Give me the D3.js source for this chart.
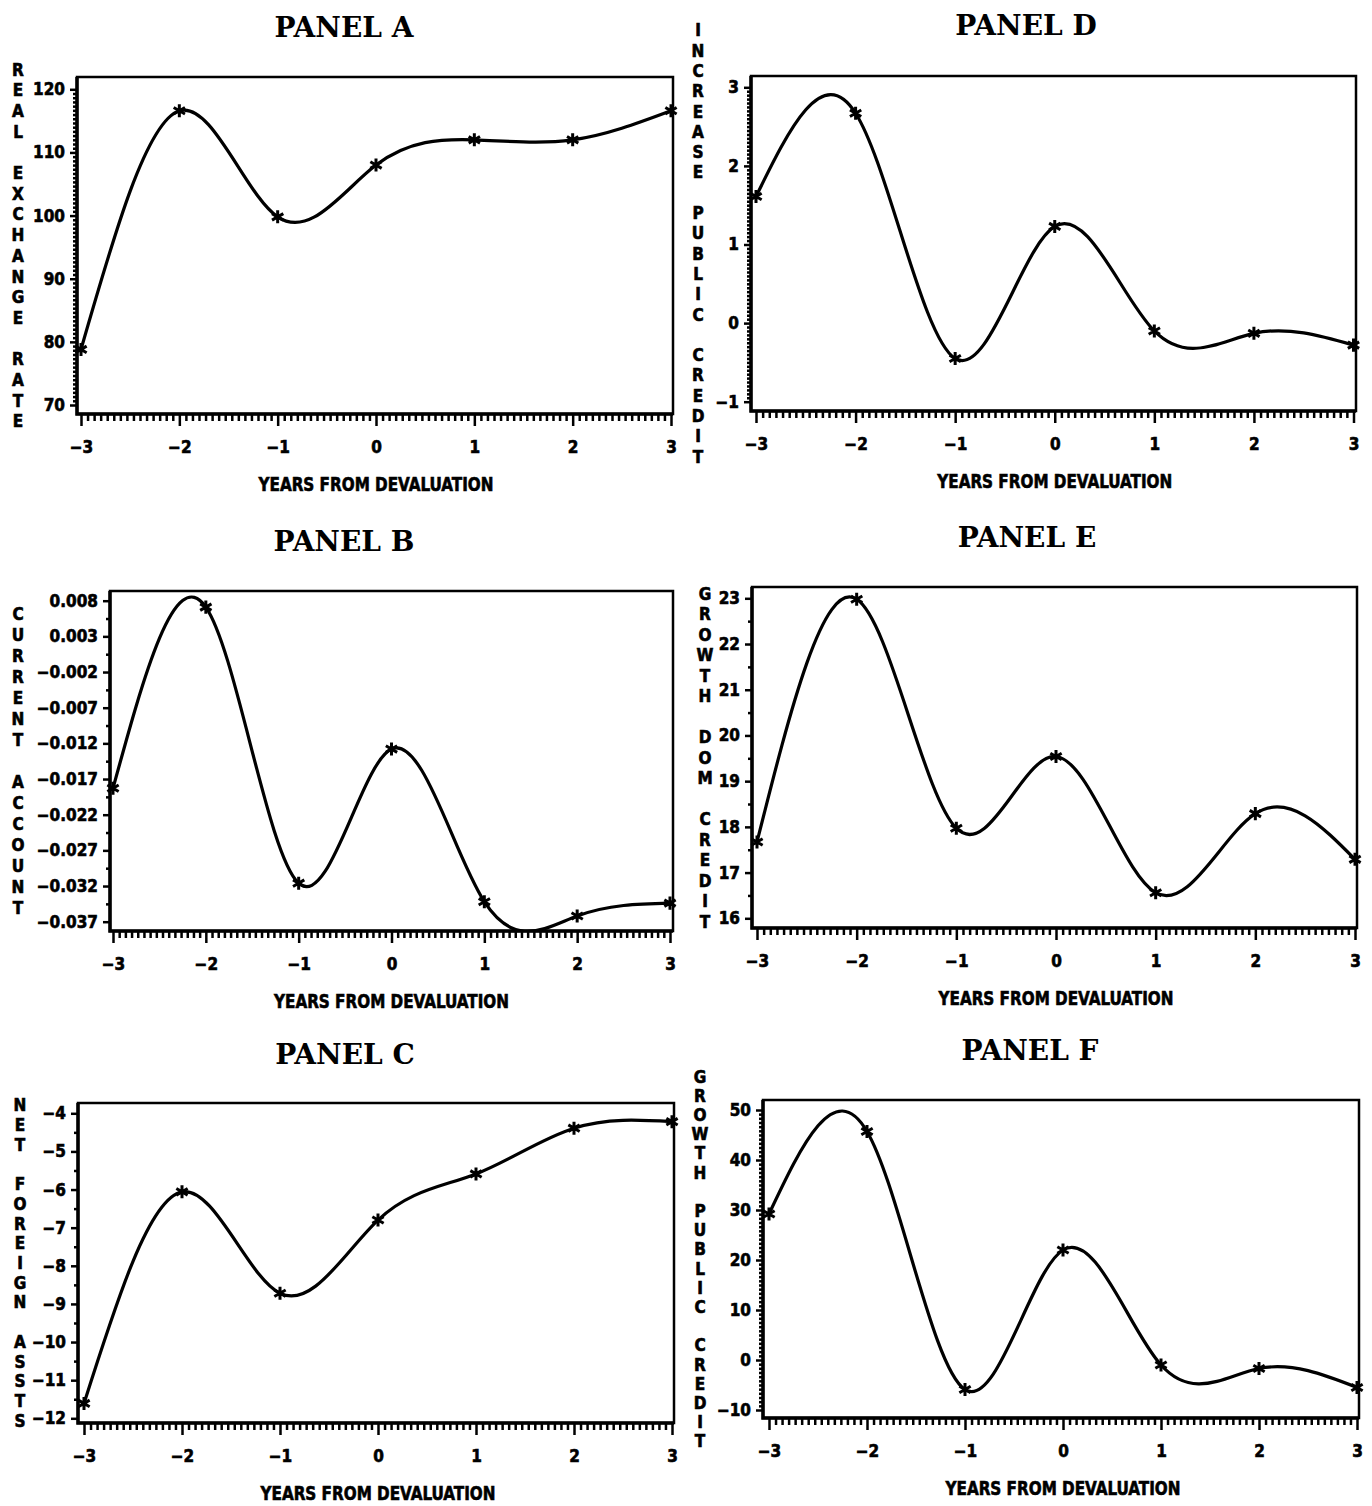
<!DOCTYPE html>
<html>
<head>
<meta charset="utf-8">
<script src="https://cdn.jsdelivr.net/npm/d3@7"></script>
<style>
  body { margin: 0; background: #fff; }
  .tick text { font-family: "DejaVu Sans Condensed", "Liberation Sans Narrow", sans-serif; font-weight: bold; font-size: 17px; fill: #000; stroke: #000; stroke-width: 0.6px; }
  .tick line { stroke: #000; stroke-width: 2.5; }
  .heavy { font-family: "DejaVu Sans Condensed", sans-serif; font-weight: bold; fill: #000; stroke: #000; stroke-width: 0.6px; }
</style>
</head>
<body>
<div id="main"></div>
<script>
// years from devaluation (x axis, shared by every panel)
const years = [-3, -2, -1, 0, 1, 2, 3];
const xTicks = [-3, -2, -1, 0, 1, 2, 3];

// series
const realExchangeRate     = [78.8, 116.6, 99.8, 108.0, 112.0, 112.0, 116.6];
const currentAccount       = [-0.0183, 0.0071, -0.0316, -0.0128, -0.0342, -0.0362, -0.0344];
const netForeignAssets     = [-11.61, -6.06, -8.72, -6.80, -5.59, -4.39, -4.22];
const increasePublicCredit = [1.61, 2.67, -0.45, 1.23, -0.10, -0.13, -0.28];
const growthDomCredit      = [17.67, 22.98, 17.97, 19.54, 16.56, 18.29, 17.29];
const growthPublicCredit   = [29.2, 45.7, -5.9, 22.0, -1.0, -1.7, -5.5];

// y tick labels
const ticksA = [70, 80, 90, 100, 110, 120];
const ticksB = [0.008, 0.003, -0.002, -0.007, -0.012, -0.017, -0.022, -0.027, -0.032, -0.037];
const ticksC = [-4, -5, -6, -7, -8, -9, -10, -11, -12];
const ticksD = [-1, 0, 1, 2, 3];
const ticksE = [16, 17, 18, 19, 20, 21, 22, 23];
const ticksF = [-10, 0, 10, 20, 30, 40, 50];

const titles = ["PANEL A", "PANEL B", "PANEL C", "PANEL D", "PANEL E", "PANEL F"];
const yLabels = ["REAL EXCHANGE RATE", "CURRENT ACCOUNT", "NET FOREIGN ASSTS",
                 "INCREASE PUBLIC CREDIT", "GROWTH DOM CREDIT", "GROWTH PUBLIC CREDIT"];
const xLabel = "YEARS FROM DEVALUATION";

const ctx = {
    w: 1372,
    h: 1506,
    LINE_W: 3.2,
    X_MINOR: 15,     // sub-intervals between x majors
};

// layout only: box = [left, right, top, bottom], xr = px of -3 and 3, yr = px of top and bottom tick
const layout = [
    {values: realExchangeRate, ticks: ticksA, fmt: d3.format("d"), minor: 15,
     box: [77, 673, 77, 414], xr: [81, 671], yr: [89.3, 405],
     titleX: 344, titleY: 37, labX: 18, pitch: 20.7},
    {values: currentAccount, ticks: ticksB, fmt: d3.format(".3f"), minor: 2,
     box: [110, 673, 591, 931], xr: [113, 670], yr: [600.7, 921.7],
     titleX: 344, titleY: 551, labX: 18, pitch: 21},
    {values: netForeignAssets, ticks: ticksC, fmt: d3.format("d"), minor: 2,
     box: [78, 674, 1103, 1423], xr: [84, 672], yr: [1113.3, 1418.3],
     titleX: 345, titleY: 1064, labX: 20, pitch: 19.7},
    {values: increasePublicCredit, ticks: ticksD, fmt: d3.format("d"), minor: 20,
     box: [751, 1356, 76, 411], xr: [756, 1353.5], yr: [87.3, 401.7],
     titleX: 1026, titleY: 35, labX: 698, pitch: 20.3},
    {values: growthDomCredit, ticks: ticksE, fmt: d3.format("d"), minor: 2,
     box: [752, 1357, 587, 928], xr: [757, 1355], yr: [598.3, 918.3],
     titleX: 1027, titleY: 547, labX: 705, pitch: 20.5},
    {values: growthPublicCredit, ticks: ticksF, fmt: d3.format("d"), minor: 12,
     box: [763, 1359, 1100, 1418], xr: [769, 1357], yr: [1110, 1410],
     titleX: 1030, titleY: 1060, labX: 700, pitch: 19.2},
];

// tick positions between consecutive majors
function minorTicks(majors, n){
    const s = majors.slice().sort((a, b) => a - b);
    const out = [];
    for (let i = 0; i < s.length - 1; i++){
        for (let k = 1; k < n; k++){
            out.push(s[i] + (s[i+1] - s[i]) * k / n);
        }
    }
    return out;
}

function drawPanel(svg, p, i){
    const [bx0, bx1, by0, by1] = p.box;
    const x = d3.scaleLinear().domain([-3, 3]).range(p.xr);
    const y = d3.scaleLinear().domain([d3.max(p.ticks), d3.min(p.ticks)]).range(p.yr);
    const g = svg.append("g");

    g.append("clipPath").attr("id", "clip" + i)
     .append("rect").attr("x", bx0).attr("y", by0)
     .attr("width", bx1 - bx0).attr("height", by1 - by0);

    // x axis: minor then major ticks
    g.append("g").attr("transform", `translate(0,${by1})`)
     .call(d3.axisBottom(x).tickValues(minorTicks(xTicks, ctx.X_MINOR)).tickSize(7).tickFormat(""))
     .call(a => a.select(".domain").remove());
    g.append("g").attr("transform", `translate(0,${by1})`)
     .call(d3.axisBottom(x).tickValues(xTicks).tickSize(12).tickPadding(15).tickFormat(d3.format("d")))
     .call(a => a.select(".domain").remove());

    // y axis
    g.append("g").attr("transform", `translate(${bx0},0)`)
     .call(d3.axisLeft(y).tickValues(minorTicks(p.ticks, p.minor)).tickSize(4).tickFormat(""))
     .call(a => a.select(".domain").remove());
    g.append("g").attr("transform", `translate(${bx0},0)`)
     .call(d3.axisLeft(y).tickValues(p.ticks).tickSize(7).tickPadding(5).tickFormat(p.fmt))
     .call(a => a.select(".domain").remove());

    // frame
    g.append("rect").attr("x", bx0).attr("y", by0)
     .attr("width", bx1 - bx0).attr("height", by1 - by0)
     .attr("fill", "none").attr("stroke", "#000").attr("stroke-width", 2.5);
    g.append("path").attr("d", `M${bx0},${by0}V${by1}H${bx1}`)
     .attr("fill", "none").attr("stroke", "#000").attr("stroke-width", 3.5);

    // spline through the yearly points
    const pts = years.map((yr, j) => [yr, p.values[j]]);
    const line = d3.line().x(d => x(d[0])).y(d => y(d[1])).curve(d3.curveNatural);
    g.append("path").datum(pts).attr("d", line)
     .attr("clip-path", `url(#clip${i})`)
     .attr("fill", "none").attr("stroke", "#000")
     .attr("stroke-width", ctx.LINE_W).attr("stroke-linejoin", "round");

    g.selectAll(".mark").data(pts).enter().append("path")
     .attr("class", "mark")
     .attr("transform", d => `translate(${x(d[0])},${y(d[1])})`)
     .attr("d", d3.symbol().type(d3.symbolAsterisk).size(120))
     .attr("fill", "none").attr("stroke", "#000").attr("stroke-width", 3);

    // titles
    g.append("text").attr("x", p.titleX).attr("y", p.titleY)
     .attr("text-anchor", "middle")
     .style("font-family", "'DejaVu Serif', serif").style("font-weight", "bold")
     .style("font-size", "28px")
     .text(titles[i]);

    g.append("text").attr("class", "heavy")
     .attr("x", x(0)).attr("y", by1 + 77)
     .attr("text-anchor", "middle")
     .attr("textLength", 235).attr("lengthAdjust", "spacingAndGlyphs")
     .style("font-size", "19px")
     .text(xLabel);

    // stacked vertical y label, one upright letter per slot (spaces keep their slot)
    const chars = yLabels[i].split("").map((c, j) => ({c: c, j: j}));
    const n = chars.length;
    const cy = (by0 + by1) / 2;
    g.append("g").selectAll("text").data(chars.filter(d => d.c !== " ")).enter().append("text")
     .attr("class", "heavy")
     .attr("x", p.labX)
     .attr("y", d => cy + (d.j - (n - 1) / 2) * p.pitch)
     .attr("text-anchor", "middle").attr("dominant-baseline", "central")
     .style("font-size", "17px")
     .text(d => d.c);
}

function createViz(){
    const svg = d3.select("#main").append("svg")
                  .attr("width", ctx.w).attr("height", ctx.h)
                  .style("background", "#fff");
    layout.forEach((p, i) => drawPanel(svg, p, i));
}

createViz();
</script>
</body>
</html>
